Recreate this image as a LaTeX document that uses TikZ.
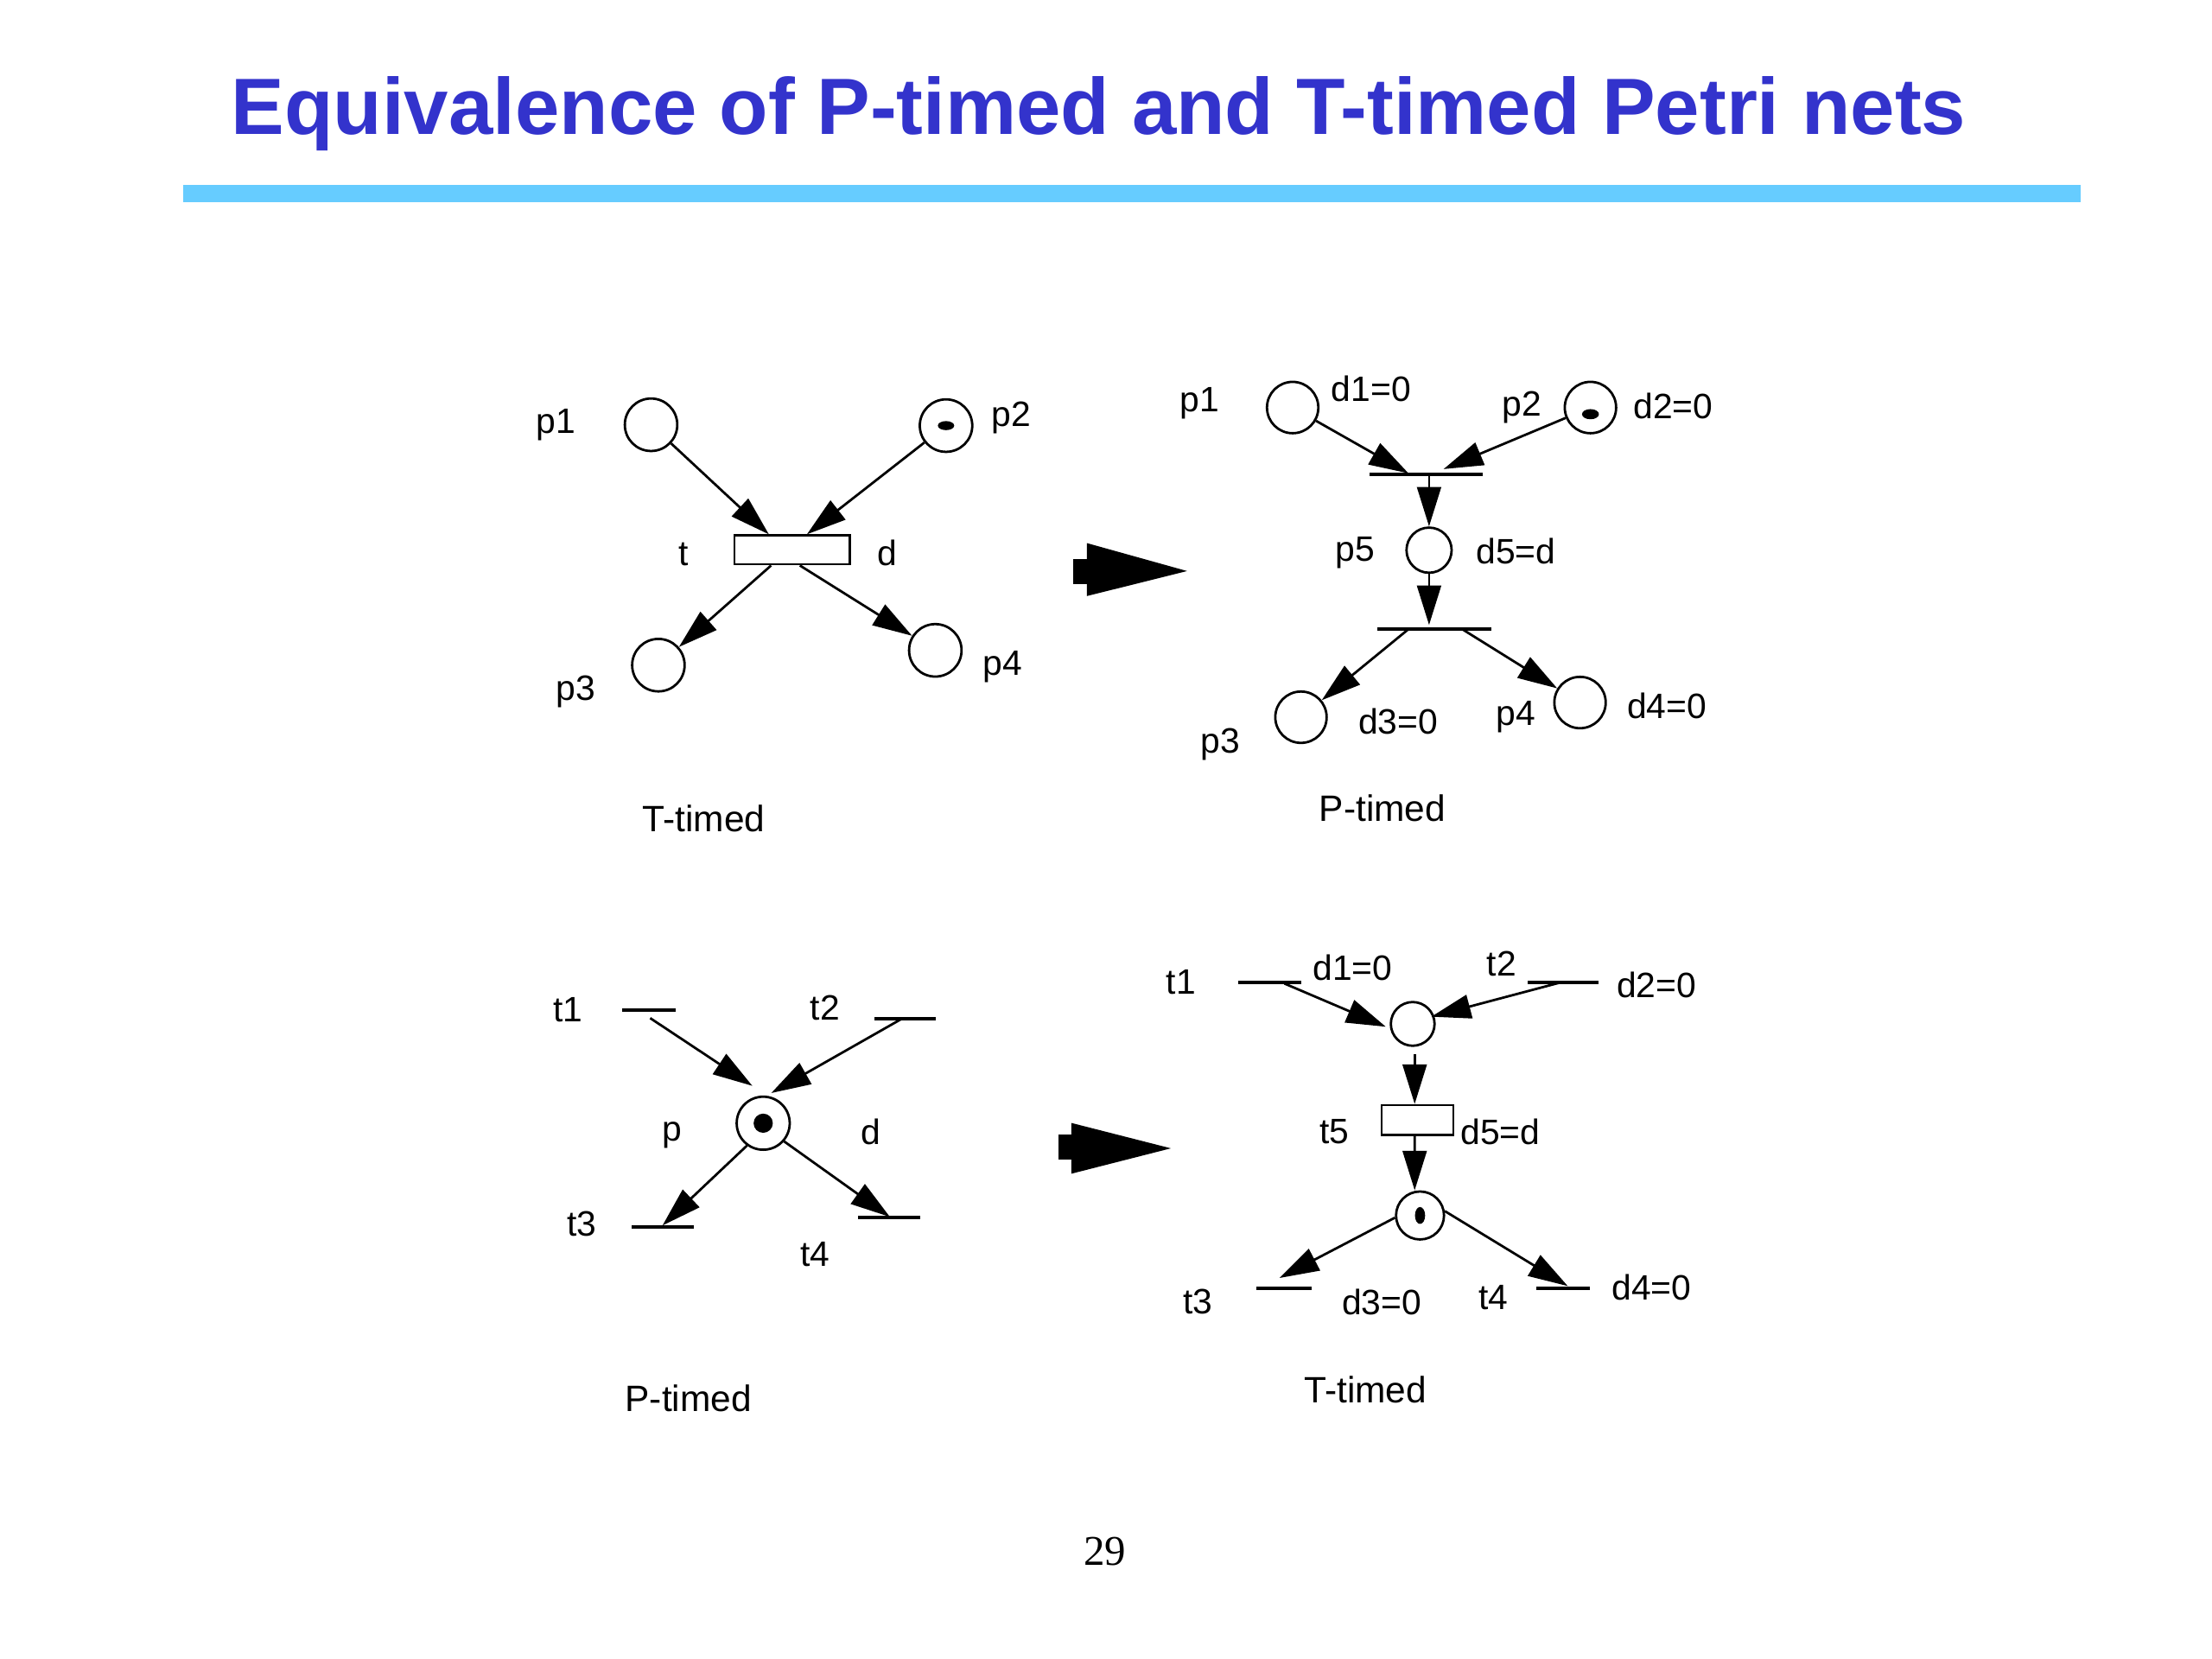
\documentclass[tikz,border=0pt]{standalone}
\usepackage{fontspec}
\setmainfont{Liberation Sans}
\newfontfamily\pagenumfont{Liberation Serif}
\usetikzlibrary{arrows.meta,calc}
\definecolor{titleblue}{RGB}{51,51,204}
\definecolor{barblue}{RGB}{102,204,255}
\begin{document}
\begin{tikzpicture}[x=0.5pt,y=-0.5pt,
  place/.style={circle,draw,line width=0.85pt,inner sep=0pt,minimum size=#1},
  place/.default=18.6pt,
  trans/.style={rectangle,draw,line width=0.85pt,inner sep=0pt},
  tbar/.style={rectangle,fill=black,inner sep=0pt,minimum height=1.2pt,minimum width=#1},
  arc/.style={line width=0.85pt,-{Triangle[length=14pt,width=8.5pt]}},
  lbl/.style={inner sep=0pt,font=\fontsize{12.5}{14}\selectfont},
  captext/.style={inner sep=0pt,font=\fontsize{13}{15}\selectfont}]
\useasboundingbox (0,0) rectangle (1568,1176);
\fill[white] (0,0) rectangle (1568,1176);

% title and rule
\node[anchor=base,text=titleblue,inner sep=0pt,font=\fontsize{28.3}{34}\selectfont\bfseries] (title) at (778.8,95) {Equivalence of P-timed and T-timed Petri nets};
\fill[barblue] (130,131) rectangle (1475,143.3);
\node[anchor=base,inner sep=0pt,font=\pagenumfont\fontsize{15}{18}\selectfont] (pnum) at (783.3,1109.6) {29};

% big transformation arrows
\fill (761,396) rectangle (770.5,414);
\fill (770.5,385) -- (841.5,404.8) -- (770.5,422.5) -- cycle;
\fill (750,804) rectangle (759.4,822);
\fill (759.4,796) -- (830,814) -- (759.4,832) -- cycle;

% ---------- top left: T-timed ----------
\node[place] (a1) at (461.5,301.1) {};
\node[place] (a2) at (670.6,301.7) {};
\fill (a2.center) ellipse [x radius=2.9pt, y radius=1.6pt];
\node[trans,minimum width=41pt,minimum height=10.2pt] (at) at (561.6,389.8) {};
\node[place] (a3) at (466.7,471.5) {};
\node[place] (a4) at (663,461) {};
\draw[arc] (a1) -- ($(at.north)+(-16.6,0)$);
\draw[arc] (a2) -- ($(at.north)+(10.4,0)$);
\draw[arc] ($(at.south)+(-15,0)$) -- (a3);
\draw[arc] ($(at.south)+(5.4,0)$) -- (a4);
\node[lbl] (la1) at (394,301) {p1};
\node[lbl] (la2) at (717,296) {p2};
\node[lbl] (lat) at (484.5,393) {t};
\node[lbl] (lad) at (629,392) {d};
\node[lbl] (la3) at (408,490) {p3};
\node[lbl] (la4) at (710.5,472.6) {p4};
\node[captext] (capa) at (499,580) {T-timed};

% ---------- top right: P-timed ----------
\node[place=18.2pt] (b1) at (916.3,288.9) {};
\node[place=18.2pt] (b2) at (1127.4,288.9) {};
\fill ($(b2.center)+(0,4.7)$) ellipse [x radius=3pt, y radius=1.8pt];
\node[tbar=40.3pt] (bt1) at (1010.9,336.5) {};
\node[place=16pt] (b5) at (1013,390) {};
\node[tbar=40.3pt] (bt2) at (1016.7,446) {};
\node[place=18.2pt] (b3) at (922.2,508.4) {};
\node[place=18.2pt] (b4) at (1120,498) {};
\draw[arc] (b1) -- ($(bt1)+(-12.5,-1)$);
\draw[arc] (b2) -- ($(bt1)+(12.4,-4)$);
\draw[arc] (b5.north |- bt1.center) -- (b5.north);
\draw[arc] (b5.south) -- ($(b5.south |- bt2.center)+(0,-3)$);
\draw[arc] ($(bt2)+(-18.3,0)$) -- (b3);
\draw[arc] ($(bt2)+(19.8,0)$) -- (b4);
\node[lbl] (lb1) at (850.4,285.8) {p1};
\node[lbl] (lbd1) at (972,275.6) {d1=0};
\node[lbl] (lb2) at (1079,289) {p2};
\node[lbl] (lbd2) at (1186,288) {d2=0};
\node[lbl] (lb5) at (960.4,392) {p5};
\node[lbl] (lbd5) at (1074.6,391) {d5=d};
\node[lbl] (lb3) at (865,527.8) {p3};
\node[lbl] (lbd3) at (991,511.4) {d3=0};
\node[lbl] (lb4) at (1074.6,508.4) {p4};
\node[lbl] (lbd4) at (1181.6,500.2) {d4=0};
\node[captext] (capb) at (980,573) {P-timed};

% ---------- bottom left: P-timed ----------
\node[place=18.8pt] (c) at (541,796.2) {};
\fill (c.center) circle [radius=3.4pt];
\node[tbar=18.9pt] (c1) at (459.9,716.2) {};
\node[tbar=21.9pt] (c2) at (641.6,722.3) {};
\node[tbar=22.1pt] (c3) at (469.9,869.7) {};
\node[tbar=21.9pt] (c4) at (630.4,863.2) {};
\draw[arc] ($(c1)+(1,5.5)$) -- ($(c)+(-7.7,-26.5)$);
\draw[arc] ($(c2)+(-2.6,0)$) -- ($(c)+(5.7,-21.4)$);
\draw[arc] (c.234) -- ($(c3)+(-0.3,-1)$);
\draw[arc] (c.-41) -- ($(c4)+(0.4,-0.6)$);
\node[lbl] (lc1) at (402.6,715.6) {t1};
\node[lbl] (lc2) at (584.9,714.6) {t2};
\node[lbl] (lcp) at (476.7,804.4) {p};
\node[lbl] (lcd) at (617.6,802.4) {d};
\node[lbl] (lc3) at (412.4,867.7) {t3};
\node[lbl] (lc4) at (577.8,889.1) {t4};
\node[captext] (capc) at (488,991) {P-timed};

% ---------- bottom right: T-timed ----------
\node[tbar=22.3pt] (e1) at (900,696.2) {};
\node[tbar=25.2pt] (e2) at (1108,696.2) {};
\node[place=15.5pt] (q1) at (1001.4,725.8) {};
\node[trans,minimum width=25.4pt,minimum height=10.5pt] (e5) at (1004.8,793.9) {};
\node[place=17pt] (q2) at (1006.6,861.6) {};
\fill (q2.center) ellipse [x radius=1.8pt, y radius=3pt];
\node[tbar=19.4pt] (e3) at (910.2,913.2) {};
\node[tbar=19pt] (e4) at (1107.8,913.2) {};
\draw[arc] ($(e1)+(10.5,1)$) -- ($(q1)+(-19.1,2)$);
\draw[arc] ($(e2)+(-1,0)$) -- ($(q1)+(13.2,-5.1)$);
\draw[arc] ($(q1.south)+(1.4,5)$) -- ($(e5.north)+(-2,0)$);
\draw[arc] ($(e5.south)+(-2,0)$) -- ($(q2.north)+(-3.8,0)$);
\draw[arc] (q2.185) -- ($(e3)+(-3.2,-7.3)$);
\draw[arc] (q2.10) -- ($(e4)+(3.5,-1.6)$);
\node[lbl] (le1) at (837.2,696.2) {t1};
\node[lbl] (led1) at (958.9,686) {d1=0};
\node[lbl] (le2) at (1064.4,683) {t2};
\node[lbl] (led2) at (1174.3,698.2) {d2=0};
\node[lbl] (le5) at (945.7,802.3) {t5};
\node[lbl] (led5) at (1063.5,802.3) {d5=d};
\node[lbl] (le3) at (849,922.8) {t3};
\node[lbl] (led3) at (979.4,922.8) {d3=0};
\node[lbl] (le4) at (1058.5,919.7) {t4};
\node[lbl] (led4) at (1170.8,912.6) {d4=0};
\node[captext] (cape) at (968,985) {T-timed};
\end{tikzpicture}
\end{document}
